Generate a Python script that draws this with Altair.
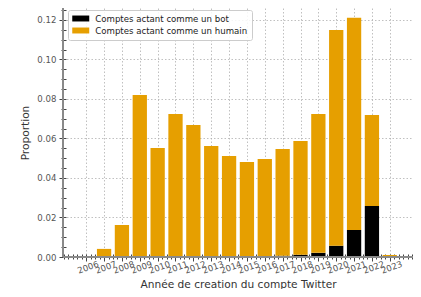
import altair as alt
import pandas as pd

years = list(range(2006, 2024))
bot = [0, 0, 0, 0, 0, 0, 0, 0, 0, 0, 0, 0.0006, 0.0011, 0.0021, 0.0057, 0.0137, 0.0258, 0]
total = [0, 0.0041, 0.0162, 0.0820, 0.0552, 0.0724, 0.0668, 0.0562, 0.0511, 0.0481,
         0.0496, 0.0547, 0.0587, 0.0724, 0.1149, 0.1211, 0.0719, 0.0010]
human = [round(t - b, 4) for t, b in zip(total, bot)]
series = ["Comptes actant comme un bot", "Comptes actant comme un humain"]
colors = ["#000000", "#E69F00"]

xticks = [2004.75 + 0.25 * i for i in range(79)]
yticks = [round(0.005 * i, 3) for i in range(26)]

rows = []
for yr, b, h in zip(years, bot, human):
    rows.append({"year": yr, "series": series[0], "y0": 0.0, "y1": b})
    rows.append({"year": yr, "series": series[1], "y0": b, "y1": b + h})
df = pd.DataFrame(rows)

W, H = 350, 249
FONT = "DejaVu Sans"

major_x = "datum.value % 1 == 0 && datum.value >= 2006 && datum.value <= 2023"
major_y = "abs(datum.value * 50 - round(datum.value * 50)) < 1e-6"

xaxis = alt.Axis(
    values=xticks,
    labelExpr=f"{major_x} ? toString(datum.value) : ''",
    labelAngle=-20, labelAlign="center", labelBaseline="top", labelOverlap=False,
    labelFontSize=8.6, labelColor="#555555", labelPadding=2,
    tickSize={"condition": {"test": major_x, "value": 7}, "value": 5},
    tickColor="#444444", tickWidth=1,
    grid=True,
    gridOpacity={"condition": {"test": major_x, "value": 1}, "value": 0},
    gridColor="#b0b0b0", gridDash=[1.5, 2], gridWidth=0.8,
    domain=False, offset=-3,
    title="Année de creation du compte Twitter", titleFontSize=10.6,
    titleColor="#333333", titleBaseline="alphabetic", titleY=33,
)
yaxis = alt.Axis(
    values=yticks,
    labelExpr=f"{major_y} ? format(datum.value, '.2f') : ''",
    labelFontSize=8.6, labelColor="#555555", labelPadding=3, labelOverlap=False,
    tickSize={"condition": {"test": major_y, "value": 7}, "value": 5},
    tickColor="#444444", tickWidth=1,
    grid=True,
    gridOpacity={"condition": {"test": major_y, "value": 1}, "value": 0},
    gridColor="#b0b0b0", gridDash=[1.5, 2], gridWidth=0.8,
    domain=False, offset=-3,
    title="Proportion", titleFontSize=10.6, titleColor="#333333", titlePadding=6,
)

bars = alt.Chart(df).transform_calculate(
    x0="datum.year - 0.4", x1="datum.year + 0.4"
).mark_bar().encode(
    x=alt.X("x0:Q", scale=alt.Scale(domain=[2004.7, 2024.3], nice=False, zero=False), axis=xaxis),
    x2="x1:Q",
    y=alt.Y("y0:Q", scale=alt.Scale(domain=[0, 0.126], nice=False), axis=yaxis),
    y2="y1:Q",
    color=alt.Color(
        "series:N", title=None,
        scale=alt.Scale(domain=series, range=colors),
        legend=alt.Legend(
            orient="none", legendX=5, legendY=2,
            fillColor="rgba(255,255,255,0.85)", strokeColor="#cccccc", cornerRadius=2,
            padding=4, symbolType="M-2,-0.7H2V0.7H-2Z", symbolSize=72.25,
            symbolOffset=4.25,
            symbolStrokeWidth=0, symbolOpacity=1, labelFontSize=8.6, labelColor="#222222",
            rowPadding=2, labelOffset=10,
        ),
    ),
)

one = pd.DataFrame({"a": [0]})
spine_left = alt.Chart(one).mark_rule(color="#8a8a8a", strokeWidth=2).encode(
    x=alt.value(0), y=alt.value(0), y2=alt.value(H)
)
spine_bottom = alt.Chart(one).mark_rule(color="#8a8a8a", strokeWidth=2).encode(
    y=alt.value(H), x=alt.value(0), x2=alt.value(W)
)

chart = alt.layer(bars, spine_left, spine_bottom).properties(
    width=W, height=H,
    padding={"left": 55, "top": 0, "right": 0, "bottom": 32},
    autosize=alt.AutoSizeParams(type="none"),
).configure_view(stroke=None).configure_axis(
    labelFont=FONT, titleFont=FONT, titleFontWeight="normal"
).configure_legend(labelFont=FONT)

chart.save("out.html", embed_options={"renderer": "svg", "actions": False})
